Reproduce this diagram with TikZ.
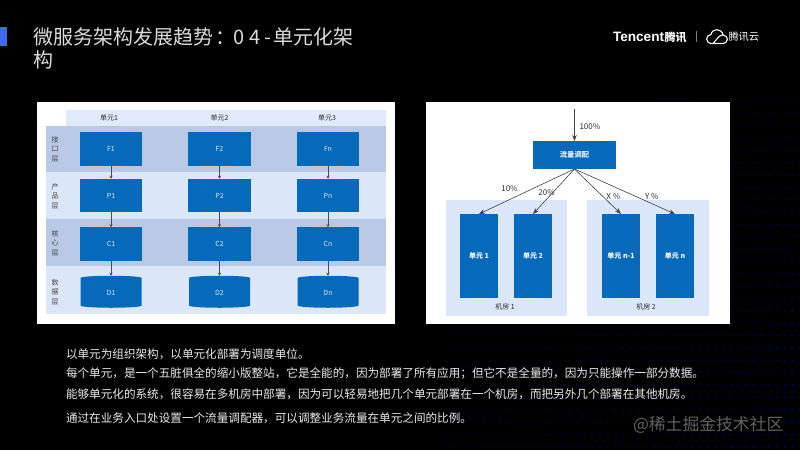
\documentclass[tikz,border=0pt]{standalone}
\usepackage{fontspec}
\setmainfont{Noto Sans CJK SC}
\newfontfamily\logofont{Liberation Sans}
\usepackage{xcolor}
\usetikzlibrary{arrows.meta,positioning,shapes.geometric}
\definecolor{unitblue}{HTML}{0769BA}
\definecolor{rowdark}{HTML}{B9C9E5}
\definecolor{rowlight}{HTML}{DBE6F9}
\definecolor{accent}{HTML}{3D6BEE}
\newcommand{\fsize}[1]{\fontsize{#1}{#1}\selectfont}

\begin{document}
\begin{tikzpicture}[
  x=1pt, y=-1pt,
  every node/.style={inner sep=0pt, outer sep=0pt},
  band/.style={fill=#1, draw=none},
  unit/.style={fill=unitblue, text=white!85!unitblue, font=\fsize{7}, minimum width=62.5pt, minimum height=33.5pt, align=center},
  disk/.style={cylinder, shape border rotate=90, aspect=0.5, fill=unitblue, text=white!85!unitblue, font=\fsize{7}, minimum width=61pt, minimum height=32pt},
  room/.style={fill=unitblue, minimum width=38pt, minimum height=84pt, text=white, font=\bfseries\fsize{7}},
  tag/.style={font=\fsize{7}, text=black!82},
  side/.style={font=\fsize{7}, text=black!72, align=center},
  thin arr/.style={-{Stealth[length=3pt,width=3pt]}, draw=black!70, line width=0.5pt},
  arr/.style={-{Stealth[length=6pt,width=4.5pt]}, draw=black!75, line width=0.6pt},
  body/.style={anchor=west, font=\fsize{11.6}, text=white!92!black},
]
\useasboundingbox (0,0) rectangle (800,450);
\fill[black] (0,0) rectangle (800,450);

% dotted backdrop
\foreach \row in {0,...,28}{
  \foreach \col in {0,...,46}{
    \pgfmathsetmacro{\dotx}{446+\col*7.7}
    \pgfmathsetmacro{\doty}{101+\row*12.35}
    \pgfmathsetmacro{\lev}{max(0,min(75,(\dotx-500)/8+(\doty-130)/9))}
    \fill[blue!\lev!black] (\dotx,\doty) circle (0.9pt);
  }
}

% title and logo
\fill[accent] (0,27) rectangle (7,46);
\node[anchor=north west, align=left, text=white!86!black, font=\fontsize{20}{23.5}\selectfont] (title) at (33,27.5)
  {微服务架构发展趋势\hspace{2pt}：\hspace{-2pt}0\hspace{5.5pt}4\hspace{3.5pt}-\hspace{2.5pt}单元化架\\构};
\node[anchor=west, font=\logofont\bfseries\fsize{13.6}, text=white] (tencent) at (613,37) {Tencent};
\node[right=0.5pt of tencent, font=\bfseries\fsize{11}, text=white] (tencentcn) {腾讯};
\draw[white!50!black, line width=0.5pt] (696.5,31) -- (696.5,42);
\draw[white, line width=1.1pt] (712,43.5) .. controls (705,43.5) and (705,35) .. (711,34.5) .. controls (712,28) and (722,28) .. (723,35) .. controls (729,35.5) and (729,43.5) .. (722,43.5) -- (712,43.5) (713,43.5) -- (719,36.5) .. controls (720,35.5) and (722,35) .. (723,35);
\node[anchor=west, font=\fsize{10.2}, text=white] (cloudcn) at (728.5,37) {腾讯云};

% left panel
\fill[white] (37,102) rectangle (395,324);
\fill[band=rowlight!85!white] (66,110) rectangle (386,126);
\fill[band=rowdark] (46,126) rectangle (386,172);
\fill[band=rowlight] (46,172) rectangle (386,219);
\fill[band=rowdark] (46,219) rectangle (386,266);
\fill[band=rowlight] (46,266) rectangle (386,314);
\node[side] (l1) at (55,149) {接\\[2.5pt]口\\[2.5pt]层};
\node[side] (l2) at (55,196) {产\\[2.5pt]品\\[2.5pt]层};
\node[side] (l3) at (55,243) {核\\[2.5pt]心\\[2.5pt]层};
\node[side] (l4) at (55,292) {数\\[2.5pt]据\\[2.5pt]层};
\node[tag] (h1) at (109,118) {单元1};
\node[tag] (h2) at (219.5,118) {单元2};
\node[tag] (h3) at (327,118) {单元3};

\node[unit] (f1) at (111,149) {F1};
\node[unit, below=13pt of f1] (p1) {P1};
\node[unit, below=15pt of p1] (c1) {C1};
\node[disk, below=15pt of c1] (d1) {D1};
\node[unit] (f2) at (219.5,149) {F2};
\node[unit, below=13pt of f2] (p2) {P2};
\node[unit, below=15pt of p2] (c2) {C2};
\node[disk, below=15pt of c2] (d2) {D2};
\node[unit] (f3) at (328,149) {Fn};
\node[unit, below=13pt of f3] (p3) {Pn};
\node[unit, below=15pt of p3] (c3) {Cn};
\node[disk, below=15pt of c3] (d3) {Dn};
\foreach \col in {1,2,3}{
  \draw[thin arr] (f\col) -- (p\col);
  \draw[thin arr] (p\col) -- (c\col);
  \draw[thin arr] (c\col) -- (d\col);
}

% right panel
\fill[white] (426,102) rectangle (730,324);
\fill[band=rowlight] (446,200) rectangle (567,316);
\fill[band=rowlight] (587,200) rectangle (709,316);
\coordinate (entry) at (574.5,109);
\node[fill=unitblue, text=white!90!unitblue, font=\bfseries\fsize{7.3}, minimum width=83pt, minimum height=28pt] (dispatch) at (574.5,155) {流量调配};
\node[room] (u1) at (479,256) {单元 1};
\node[room, right=16pt of u1] (u2) {单元 2};
\node[room] (u3) at (621,256) {单元 n-1};
\node[room, right=16pt of u3] (u4) {单元 n};
\node[tag] (r1) at (505,307) {机房 1};
\node[tag] (r2) at (646,307) {机房 2};
\draw[arr] (entry) -- node[pos=0.55, right=5pt, tag, font=\fsize{8}] {100\%} (dispatch);
\draw[arr] (dispatch.south) -- node[pos=0.44, xshift=-23pt, tag, font=\fsize{8}] {10\%} (u1.north);
\draw[arr] (dispatch.south) -- node[pos=0.53, xshift=-6pt, tag, font=\fsize{8}] {20\%} (u2.north);
\draw[arr] (dispatch.south) -- node[pos=0.62, xshift=10pt, tag, font=\fsize{8}] {X \%} (u3.north);
\draw[arr] (dispatch.south) -- node[pos=0.62, xshift=15pt, tag, font=\fsize{8}] {Y \%} (u4.north);

% notes
\node[body] (t1) at (66,354) {以单元为组织架构，以单元化部署为调度单位。};
\node[body] (t2) at (66,373) {每个单元，是一个五脏俱全的缩小版整站，它是全能的，因为部署了所有应用；但它不是全量的，因为只能操作一部分数据。};
\node[body] (t3) at (66,394) {能够单元化的系统，很容易在多机房中部署，因为可以轻易地把几个单元部署在一个机房，而把另外几个部署在其他机房。};
\node[body] (t4) at (66,418) {通过在业务入口处设置一个流量调配器，可以调整业务流量在单元之间的比例。};
\node[anchor=west, font=\fsize{16.8}, text=white!38!black] (mark) at (633,425) {@稀土掘金技术社区};
\end{tikzpicture}
\end{document}
